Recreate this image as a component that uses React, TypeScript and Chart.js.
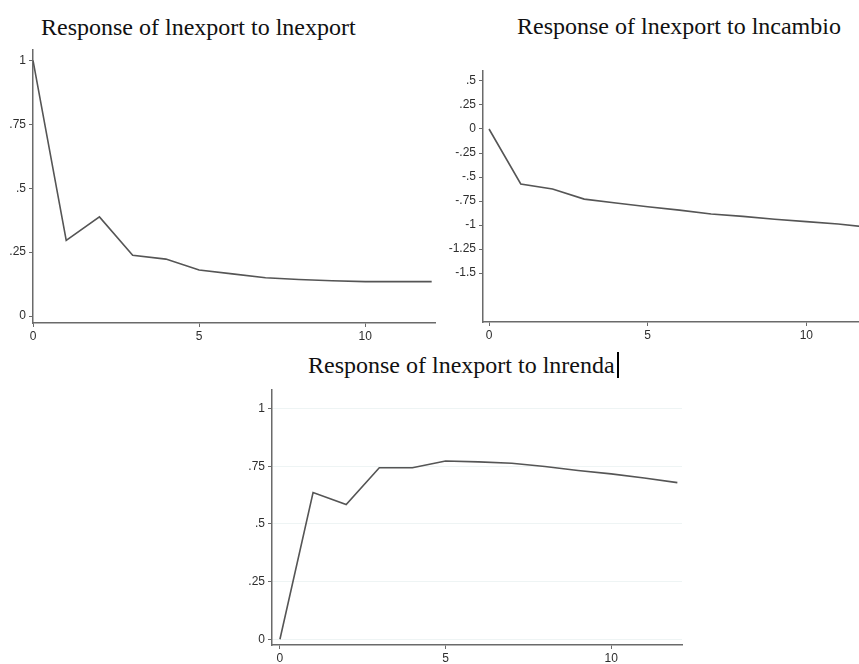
import React, { useEffect, useRef } from "react";
import { Chart, registerables } from "chart.js";

Chart.register(...registerables);

// ---- data ----
const horizon = [0, 1, 2, 3, 4, 5, 6, 7, 8, 9, 10, 11, 12];
const respExport = [1.0, 0.296, 0.388, 0.238, 0.223, 0.18, 0.165, 0.15, 0.143, 0.138, 0.135, 0.135, 0.135];
const respCambio = [0, -0.573, -0.625, -0.73, -0.77, -0.81, -0.845, -0.885, -0.91, -0.94, -0.965, -0.99, -1.025];
const respRenda = [0, 0.636, 0.584, 0.744, 0.744, 0.773, 0.769, 0.763, 0.749, 0.732, 0.717, 0.699, 0.679];

const xTicks = [0, 5, 10];
const xTickLabels = ["0", "5", "10"];
const yTicksExport = [0, 0.25, 0.5, 0.75, 1];
const yLabelsExport = ["0", ".25", ".5", ".75", "1"];
const yTicksCambio = [-1.5, -1.25, -1, -0.75, -0.5, -0.25, 0, 0.25, 0.5];
const yLabelsCambio = ["-1.5", "-1.25", "-1", "-.75", "-.5", "-.25", "0", ".25", ".5"];
const yTicksRenda = [0, 0.25, 0.5, 0.75, 1];
const yLabelsRenda = ["0", ".25", ".5", ".75", "1"];

const titles = [
  "Response of lnexport to lnexport",
  "Response of lnexport to lncambio",
  "Response of lnexport to lnrenda",
];

const AXIS = "#6a6a6a";
const LINE = "#555555";
const TICKTXT = "#2e2e2e";
const tickFont = { family: '"Liberation Sans", Arial, sans-serif', size: 12 };

type Cfg = {
  values: number[];
  xMin: number;
  xMax: number;
  yMin: number;
  yMax: number;
  yTicks: number[];
  yLabels: string[];
  yWidth: number;
  xHeight: number;
  padTop: number;
  padRight: number;
  grid: boolean;
};

function makeConfig(c: Cfg): any {
  return {
    type: "line",
    data: {
      datasets: [
        {
          data: horizon.map((h, i) => ({ x: h, y: c.values[i] })),
          borderColor: LINE,
          borderWidth: 1.6,
          pointRadius: 0,
          tension: 0,
          fill: false,
        },
      ],
    },
    options: {
      animation: false,
      responsive: false,
      layout: { padding: { top: c.padTop, right: c.padRight, left: 0, bottom: 0 } },
      plugins: { legend: { display: false }, tooltip: { enabled: false }, title: { display: false } },
      scales: {
        x: {
          type: "linear",
          min: c.xMin,
          max: c.xMax,
          bounds: "data",
          afterBuildTicks: (s: any) => {
            s.ticks = xTicks.map((v) => ({ value: v }));
          },
          afterFit: (s: any) => {
            s.height = c.xHeight;
          },
          grid: { drawOnChartArea: false, drawTicks: true, tickLength: 4, color: AXIS, lineWidth: 1 },
          border: { display: true, color: AXIS, width: 1.5 },
          ticks: {
            autoSkip: false,
            maxRotation: 0,
            padding: 2,
            color: TICKTXT,
            font: tickFont,
            callback: (_v: any, i: number) => xTickLabels[i],
          },
        },
        y: {
          type: "linear",
          min: c.yMin,
          max: c.yMax,
          bounds: "data",
          afterBuildTicks: (s: any) => {
            s.ticks = c.yTicks.map((v) => ({ value: v }));
          },
          afterFit: (s: any) => {
            s.width = c.yWidth;
          },
          grid: {
            drawOnChartArea: c.grid,
            drawTicks: true,
            tickLength: 4,
            color: c.grid ? "#eef4f4" : AXIS,
            tickColor: AXIS,
            lineWidth: 1,
          },
          border: { display: true, color: AXIS, width: 1.5 },
          ticks: {
            autoSkip: false,
            padding: 3,
            color: TICKTXT,
            font: tickFont,
            callback: (_v: any, i: number) => c.yLabels[i],
          },
        },
      },
    },
  };
}

function ChartCanvas(props: { cfg: Cfg; left: number; top: number; width: number; height: number }) {
  const ref = useRef<HTMLCanvasElement | null>(null);
  useEffect(() => {
    if (!ref.current) return;
    const chart = new Chart(ref.current, makeConfig(props.cfg));
    return () => chart.destroy();
  }, []);
  return (
    <canvas
      ref={ref}
      width={props.width}
      height={props.height}
      style={{ position: "absolute", left: props.left, top: props.top, width: props.width, height: props.height }}
    />
  );
}

const titleStyle: React.CSSProperties = {
  position: "absolute",
  fontFamily: '"Liberation Serif", "Times New Roman", serif',
  fontSize: 24,
  lineHeight: "24px",
  color: "#111",
  whiteSpace: "nowrap",
};

export default function App() {
  return (
    <div
      style={{
        position: "fixed",
        left: 0,
        top: 0,
        width: 859,
        height: 664,
        overflow: "hidden",
        background: "#ffffff",
      }}
    >
      <div style={{ ...titleStyle, left: 41, top: 15 }}>{titles[0]}</div>
      <div style={{ ...titleStyle, left: 517, top: 14 }}>{titles[1]}</div>
      <div style={{ ...titleStyle, left: 308, top: 352 }}>
        {titles[2]}
        <span
          style={{
            display: "inline-block",
            width: 2,
            height: 26,
            background: "#000",
            marginLeft: 2,
            verticalAlign: "-5px",
          }}
        />
      </div>

      <ChartCanvas
        left={0}
        top={40}
        width={440}
        height={305}
        cfg={{
          values: respExport,
          xMin: 0,
          xMax: 12.1,
          yMin: -0.027,
          yMax: 1.04,
          yTicks: yTicksExport,
          yLabels: yLabelsExport,
          yWidth: 33,
          xHeight: 22,
          padTop: 5,
          padRight: 5,
          grid: false,
        }}
      />
      <ChartCanvas
        left={440}
        top={40}
        width={445}
        height={305}
        cfg={{
          values: respCambio,
          xMin: -0.19,
          xMax: 12.1,
          yMin: -2.01,
          yMax: 0.604,
          yTicks: yTicksCambio,
          yLabels: yLabelsCambio,
          yWidth: 43,
          xHeight: 23,
          padTop: 31,
          padRight: 12,
          grid: false,
        }}
      />
      <ChartCanvas
        left={230}
        top={380}
        width={460}
        height={284}
        cfg={{
          values: respRenda,
          xMin: -0.24,
          xMax: 12.14,
          yMin: -0.025,
          yMax: 1.08,
          yTicks: yTicksRenda,
          yLabels: yLabelsRenda,
          yWidth: 42,
          xHeight: 19,
          padTop: 2,
          padRight: 8,
          grid: true,
        }}
      />
    </div>
  );
}
